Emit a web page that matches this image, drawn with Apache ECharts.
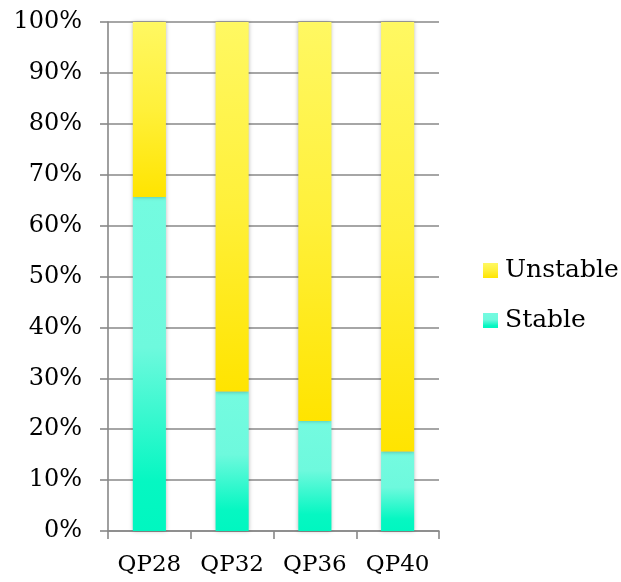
<!DOCTYPE html>
<html>
<head>
<meta charset="utf-8">
<script src="https://cdn.jsdelivr.net/npm/echarts@6/dist/echarts.min.js"></script>
<style>
  html, body { margin: 0; padding: 0; background: #fff; }
  #chart { width: 621px; height: 582px; }
</style>
</head>
<body>
<div id="chart"></div>
<script>
// Share of stable vs unstable cases per quantisation parameter
const categories = ['QP28', 'QP32', 'QP36', 'QP40'];
const stableShare = [65.6, 27.4, 21.6, 15.6];
const unstableShare = [34.4, 72.6, 78.4, 84.4];
const yTicks = [0, 10, 20, 30, 40, 50, 60, 70, 80, 90, 100];

const FONT = 'DejaVu Serif';
const GRID_GREY = '#888888';

function vGradient(stops) {
  return new echarts.graphic.LinearGradient(0, 0, 0, 1,
    stops.map(([offset, color]) => ({ offset, color })));
}

const stableFill = vGradient([
  [0, '#74fbe0'], [0.45, '#6ef9dd'], [0.85, '#06f7c2'], [1, '#00f7c0']
]);
const unstableFill = vGradient([
  [0, '#fff862'], [0.5, '#fff03a'], [1, '#ffe400']
]);

const barShadow = { shadowBlur: 4, shadowColor: 'rgba(0,0,0,0.28)', shadowOffsetX: 0, shadowOffsetY: 0 };

const chart = echarts.init(document.getElementById('chart'), null, { renderer: 'canvas' });
chart.setOption({
  animation: false,
  backgroundColor: '#ffffff',
  grid: { left: 108, top: 22, width: 331, height: 509, containLabel: false },
  legend: {
    orient: 'vertical',
    left: 483,
    top: 258,
    padding: 0,
    itemWidth: 15,
    itemHeight: 15,
    itemGap: 25,
    icon: 'rect',
    data: ['Unstable', 'Stable'],
    textStyle: { fontFamily: FONT, fontSize: 25, color: '#000', lineHeight: 25, padding: [0, 0, 0, 2] }
  },
  xAxis: {
    type: 'category',
    data: categories,
    axisLine: { lineStyle: { color: GRID_GREY, width: 1.6 } },
    axisTick: { show: true, length: 8, lineStyle: { color: GRID_GREY, width: 1.6 } },
    axisLabel: { fontFamily: FONT, fontSize: 23, color: '#000', margin: 23, interval: 0, hideOverlap: false }
  },
  yAxis: {
    type: 'value',
    min: yTicks[0],
    max: yTicks[yTicks.length - 1],
    interval: yTicks[1] - yTicks[0],
    axisLine: { show: true, lineStyle: { color: GRID_GREY, width: 1.6 } },
    axisTick: { show: true, length: 8, lineStyle: { color: GRID_GREY, width: 1.6 } },
    splitLine: { show: true, lineStyle: { color: GRID_GREY, width: 1.6 } },
    axisLabel: { fontFamily: FONT, fontSize: 24, color: '#000', margin: 26, formatter: '{value}%' }
  },
  series: [
    {
      name: 'Stable',
      type: 'bar',
      stack: 'share',
      data: stableShare,
      barCategoryGap: '60%',
      itemStyle: Object.assign({ color: stableFill }, barShadow)
    },
    {
      name: 'Unstable',
      type: 'bar',
      stack: 'share',
      data: unstableShare,
      barCategoryGap: '60%',
      itemStyle: Object.assign({ color: unstableFill }, barShadow)
    }
  ]
});
</script>
</body>
</html>
